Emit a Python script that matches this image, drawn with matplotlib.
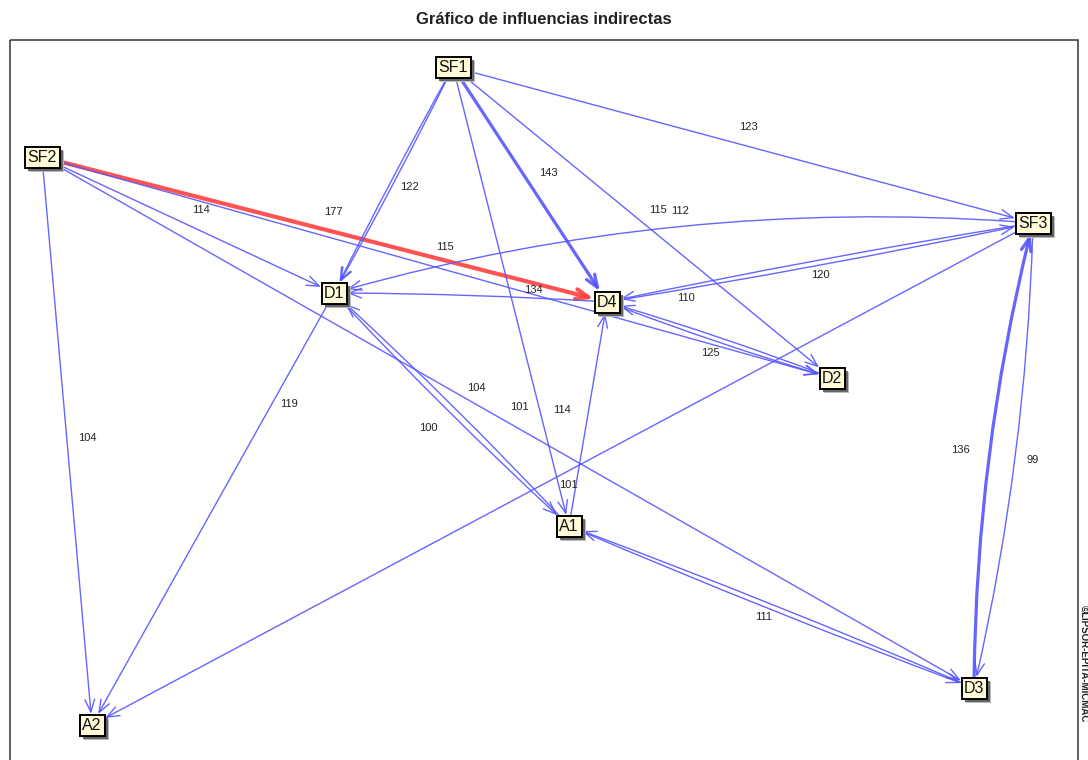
import matplotlib.pyplot as plt
from matplotlib.patches import Rectangle, FancyArrowPatch

plt.rcParams['font.family'] = ['Liberation Sans', 'DejaVu Sans']

# nodos (posicion en el plano de la imagen, px)
nodos = ['SF1', 'SF2', 'SF3', 'D1', 'D4', 'D2', 'A1', 'D3', 'A2']
nodo_x = [453, 42, 1033, 334, 607, 832, 569, 974, 92]
nodo_y = [67, 157, 223, 293, 302, 378, 526, 688, 725]

# arcos: origen, destino, valor (None = sin etiqueta)
origen = ['SF2', 'SF2', 'SF2', 'SF2', 'SF2', 'SF1', 'SF1', 'SF1', 'SF1', 'SF1', 'SF1',
          'SF3', 'D4', 'SF3', 'D4', 'D2', 'D4', 'A1', 'A1', 'D1', 'D1', 'SF3',
          'D3', 'SF3', 'D3', 'A1']
destino = ['D4', 'D1', 'D2', 'A2', 'D3', 'D1', 'D1', 'D4', 'A1', 'D2', 'SF3',
           'D1', 'D1', 'D4', 'SF3', 'D4', 'D2', 'D4', 'D1', 'A1', 'A2', 'A2',
           'SF3', 'D3', 'A1', 'D3']
valor = [177, 114, 115, 104, 104, 122, None, 143, 101, 115, 123,
         112, 134, 110, 120, 125, None, 114, 100, None, 119, 101,
         136, 99, 111, None]

# estilo de cada arco
grosor = [3.0, 1.0, 1.0, 1.0, 1.0, 1.0, 1.0, 2.3, 1.0, 1.0, 1.0,
          1.0, 1.0, 1.0, 1.0, 1.0, 1.0, 1.0, 1.0, 1.0, 1.0, 1.0,
          2.3, 1.0, 1.0, 1.0]
curva = [0, 0, 0, 0, 0, 0.012, -0.012, 0, 0, 0, 0,
         0.09, 0.015, 0.012, 0.012, 0.02, 0.02, 0, 0.02, 0.02, 0, 0,
         -0.06, -0.05, 0.012, 0.012]
# posicion de la etiqueta: fraccion sobre la cuerda + desplazamiento (px)
etq_t = [0.515, 0.545, 0.51, 0.495, 0.466, 0.53, 0.5, 0.45, 0.74, 0.54, 0.51,
         0.5, 0.27, 0.815, 0.5, 0.54, 0.5, 0.52, 0.51, 0.5, 0.257, 0.494,
         0.512, 0.51, 0.52, 0.5]
etq_off = [(0, -20), (0, -21), (0, -23), (21, 0), (0, -16), (20, 0), (0, 0), (26, 0),
           (-19, 0), (0, -25), (0, -20), (-3, -47), (0, -10), (0, 11), (0, 12), (0, 16),
           (0, 0), (-27, 0), (-21, 21), (0, 0), (17, 0), (0, 14), (-44, 0), (30, 0),
           (0, 13), (0, 0)]

AZUL = '#5555ff'
ROJO = '#ff4040'

fig = plt.figure(figsize=(10.88, 7.6), dpi=100)
ax = fig.add_axes([0, 0, 1, 1])
ax.set_xlim(0, 1088)
ax.set_ylim(760, 0)
ax.axis('off')

ax.text(544, 20, 'Gráfico de influencias indirectas', ha='center', va='center',
        fontsize=12, fontweight='bold', color='#222222')

# marco
ax.add_patch(Rectangle((10, 40), 1068, 760, fill=False, ec='#444444', lw=1.2, zorder=1))
ax.text(1084, 605, '©LIPSOR-EPITA-MICMAC', rotation=-90, ha='center', va='top',
        fontsize=7, fontweight='bold', color='#222222')

# cajas de los nodos
pos = {}
cajas = {}
for n, x, y in zip(nodos, nodo_x, nodo_y):
    w = 5 + 10 * len(n)
    h = 21
    pos[n] = (x, y)
    ax.add_patch(Rectangle((x - w / 2 + 4, y - h / 2 + 4), w, h, fc='#bbbbbb', ec='none', zorder=5))
    ax.add_patch(Rectangle((x - w / 2 + 3, y - h / 2 + 3), w, h, fc='#666666', ec='none', zorder=5))
    r = Rectangle((x - w / 2, y - h / 2), w, h, fc='#fffbd8', ec='black', lw=1.4, zorder=6)
    ax.add_patch(r)
    cajas[n] = r
    ax.text(x, y + 0.5, n, ha='center', va='center', fontsize=11.5, color='#111111', zorder=7)

# arcos
for i in range(len(origen)):
    s, d = origen[i], destino[i]
    color = ROJO if i == 0 else AZUL
    flecha = FancyArrowPatch(pos[s], pos[d], patchA=cajas[s], patchB=cajas[d],
                             shrinkA=0, shrinkB=1,
                             arrowstyle='->,head_length=0.9,head_width=0.35',
                             mutation_scale=10, connectionstyle='arc3,rad=%s' % curva[i],
                             color=color, lw=grosor[i], alpha=0.9, zorder=3)
    ax.add_patch(flecha)
    if valor[i] is not None:
        t = etq_t[i]
        lx = pos[s][0] + t * (pos[d][0] - pos[s][0]) + etq_off[i][0]
        ly = pos[s][1] + t * (pos[d][1] - pos[s][1]) + etq_off[i][1]
        ax.text(lx, ly, str(valor[i]), ha='center', va='center', fontsize=8,
                color='#222222', zorder=4)

fig.savefig('out.png', dpi=100)
